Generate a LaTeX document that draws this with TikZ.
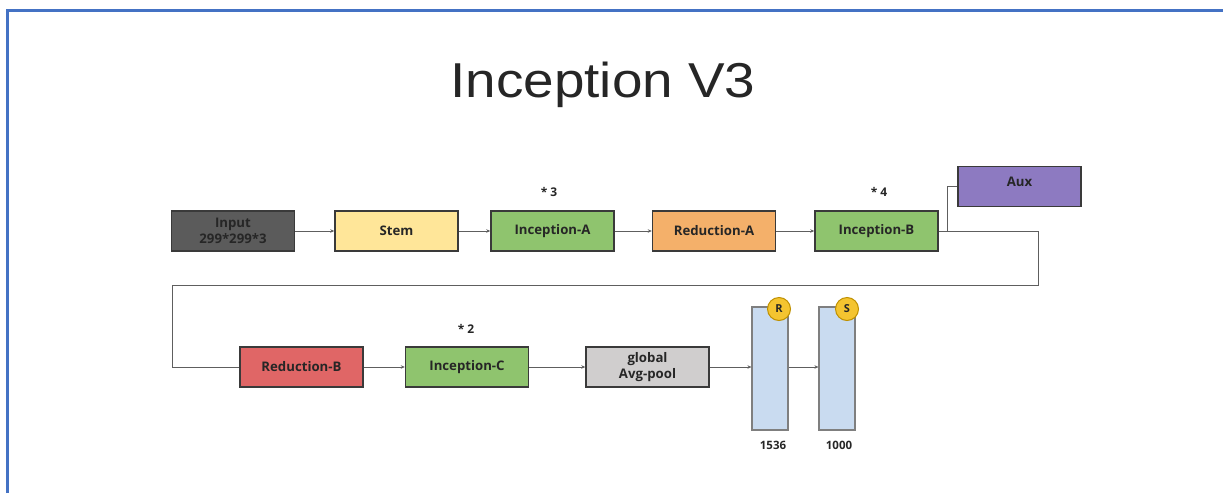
\documentclass[tikz,border=0pt]{standalone}
\usepackage{fontspec}
\usepackage{graphicx}
\setmainfont{Open Sans}
\newfontfamily\titlefont{Liberation Sans}
\usetikzlibrary{arrows.meta,calc}

\definecolor{frameblue}{HTML}{4472C4}
\definecolor{inkdark}{HTML}{262626}
\definecolor{boxline}{HTML}{3A3A3A}
\definecolor{wire}{HTML}{5E5E5E}
\definecolor{inputgray}{HTML}{5B5B5B}
\definecolor{stemyellow}{HTML}{FFE699}
\definecolor{incgreen}{HTML}{8FC46E}
\definecolor{redorange}{HTML}{F4B06A}
\definecolor{auxpurple}{HTML}{8D7AC1}
\definecolor{redbred}{HTML}{E06666}
\definecolor{poolgray}{HTML}{D0CECE}
\definecolor{vecblue}{HTML}{C9DBF0}
\definecolor{vecline}{HTML}{7F7F7F}
\definecolor{badge}{HTML}{F4C430}
\definecolor{badgeline}{HTML}{BF9000}

\tikzset{
  blk/.style={draw=boxline, line width=1.4pt, rectangle,
    minimum width=123pt, minimum height=40pt, inner sep=0pt,
    align=center, text=inkdark,
    font=\fontsize{13.2}{15.5}\selectfont\bfseries},
  vecbar/.style={draw=vecline, line width=1.2pt, fill=vecblue,
    minimum width=36pt, minimum height=123pt, inner sep=0pt},
  badgenode/.style={circle, draw=badgeline, line width=1pt, fill=badge,
    minimum size=23pt, inner sep=0pt, text=inkdark,
    font=\fontsize{11}{13}\selectfont\bfseries},
  mult/.style={text=inkdark, font=\fontsize{12}{14}\selectfont\bfseries},
  dimlabel/.style={text=inkdark, font=\fontsize{11.5}{13}\selectfont\bfseries},
  wireline/.style={draw=wire, line width=1pt},
  flow/.style={wireline, -{Stealth[length=4pt,width=3.5pt]}}
}

\begin{document}
\begin{tikzpicture}[x=1pt, y=-1pt]
  \useasboundingbox (0,0) rectangle (1223,493);

  % frame edges
  \draw[frameblue, line width=2.6pt] (7.5,493) -- (7.5,10.5) -- (1223,10.5);

  % heading
  \node[anchor=base, text=inkdark, font=\titlefont\fontsize{49}{55}\selectfont] (title) at (603,97)
    {\scalebox{1.12}[1]{Inception V3}};

  % first row
  \node[blk, fill=inputgray] (input) at (233,231) {Input\\299*299*3};
  \node[blk, fill=stemyellow] (stem) at (396.5,231) {Stem};
  \node[blk, fill=incgreen] (inca) at (552.5,231) {Inception-A};
  \node[blk, fill=redorange] (reda) at (714,231) {Reduction-A};
  \node[blk, fill=incgreen] (incb) at (876.5,231) {Inception-B};
  \node[blk, fill=auxpurple, anchor=north] (aux) at (1019.5,166) {};
  \node[text=inkdark, font=\fontsize{13.2}{15.5}\selectfont\bfseries] (auxlabel) at (1019.5,182) {Aux};

  \node[mult] (m3) at (549,192) {* 3};
  \node[mult] (m4) at (879,192) {* 4};

  % second row
  \node[blk, fill=redbred] (redb) at (301.5,367) {Reduction-B};
  \node[blk, fill=incgreen] (incc) at (467,367) {Inception-C};
  \node[blk, fill=poolgray] (pool) at (647.5,367) {global\\Avg-pool};
  \node[mult] (m2) at (466,329) {* 2};

  % dense layers
  \node[vecbar] (vr) at (770,368.5) {};
  \node[vecbar] (vs) at (837,368.5) {};
  \node[badgenode] (br) at (779,309) {R};
  \node[badgenode] (bs) at (847,309) {S};
  \node[dimlabel] (d1536) at (773,445) {1536};
  \node[dimlabel] (d1000) at (839,445) {1000};

  % connectors
  \draw[flow] (input) -- (stem);
  \draw[flow] (stem) -- (inca);
  \draw[flow] (inca) -- (reda);
  \draw[flow] (reda) -- (incb);

  % branch to the auxiliary head
  \coordinate (tap) at ($(incb.east)+(9,0)$);
  \draw[wireline] (incb.east) -- (tap) |- (aux.west);

  % wrap-around to the second row
  \coordinate (turnR) at ($(incb.east)+(100,0)$);
  \coordinate (turnL) at (172,285);
  \draw[wireline] (incb.east) -- (turnR) |- (turnL) |- (redb.west);

  \draw[flow] (redb) -- (incc);
  \draw[flow] (incc) -- (pool);
  \draw[flow] (pool.east) -- (pool.east -| vr.west);
  \draw[flow] (vr.east |- pool.east) -- (pool.east -| vs.west);
\end{tikzpicture}
\end{document}
